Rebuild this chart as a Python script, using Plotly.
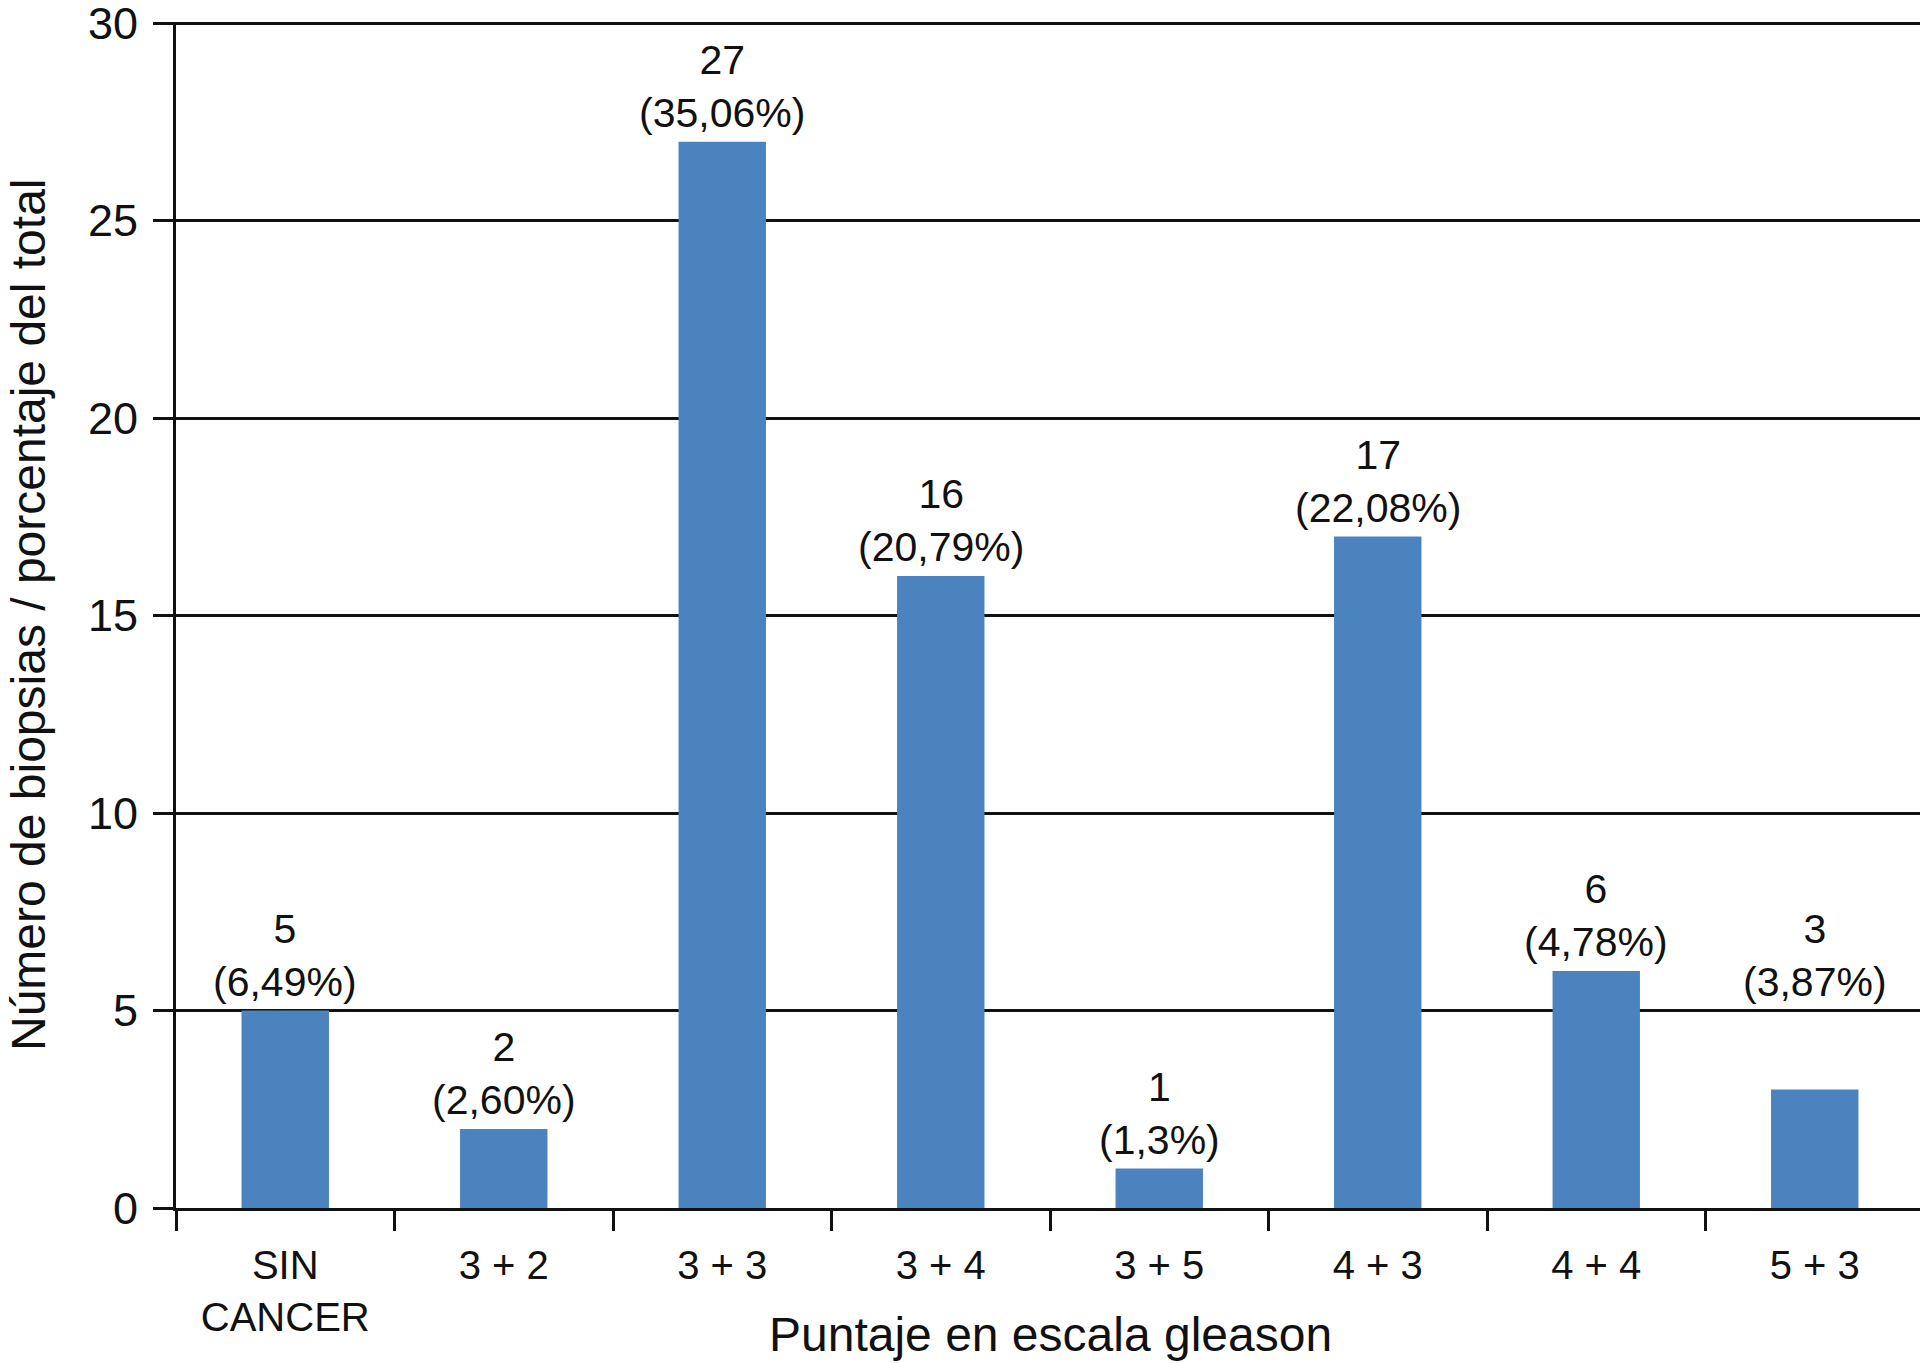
import plotly.graph_objects as go

categories = ["SIN<br>CANCER", "3 + 2", "3 + 3", "3 + 4", "3 + 5", "4 + 3", "4 + 4", "5 + 3"]
counts = [5, 2, 27, 16, 1, 17, 6, 3]
percent_labels = ["6,49%", "2,60%", "35,06%", "20,79%", "1,3%", "22,08%", "4,78%", "3,87%"]
label_levels = [5, 2, 27, 16, 1, 17, 6, 5]
y_ticks = [0, 5, 10, 15, 20, 25, 30]
x_title = "Puntaje en escala gleason"
y_title = "Número de biopsias / porcentaje del total"

FONT = "Liberation Sans, Arial, Helvetica, sans-serif"
BAR_COLOR = "#4a83bd"
INK = "#111111"

fig = go.Figure()
fig.add_trace(go.Bar(
    x=categories, y=counts, width=0.4,
    marker=dict(color=BAR_COLOR, line=dict(width=0)),
    hoverinfo="x+y",
))

for cat, n, pct, lvl in zip(categories, counts, percent_labels, label_levels):
    fig.add_annotation(
        x=cat, y=lvl, text=f"{n}<br>({pct})", showarrow=False,
        xanchor="center", yanchor="bottom", yshift=4,
        font=dict(family=FONT, size=41, color=INK),
    )

# axis titles as annotations for precise placement
fig.add_annotation(
    xref="paper", yref="paper", x=0.5, y=0, yshift=-126,
    xanchor="center", yanchor="middle", showarrow=False,
    text=x_title, font=dict(family=FONT, size=48, color=INK),
)
fig.add_annotation(
    xref="paper", yref="paper", x=0, y=0.5, xshift=-148,
    xanchor="center", yanchor="middle", showarrow=False, textangle=-90,
    text=y_title, font=dict(family=FONT, size=48, color=INK),
)

fig.update_layout(
    width=1920, height=1355,
    margin=dict(l=168, r=4, t=14, b=155, autoexpand=False),
    paper_bgcolor="white", plot_bgcolor="white",
    showlegend=False,
    font=dict(family=FONT, color=INK),
)
fig.update_xaxes(
    type="category", range=[-0.5, 7.5], automargin=False,
    tickson="boundaries", ticks="outside", ticklen=20, tickwidth=3, tickcolor=INK,
    ticklabelstandoff=20,
    showline=True, linecolor=INK, linewidth=3,
    showgrid=False, zeroline=False,
    tickfont=dict(family=FONT, size=40, color=INK),
)
fig.update_yaxes(
    range=[0, 30.03], tickvals=y_ticks, automargin=False,
    ticks="outside", ticklen=20, tickwidth=3, tickcolor=INK,
    ticklabelstandoff=6, ticklabeloverflow="allow",
    showline=True, linecolor=INK, linewidth=3,
    showgrid=True, gridcolor=INK, gridwidth=3,
    zeroline=False,
    tickfont=dict(family=FONT, size=45, color=INK),
)

fig.write_html("out.html")
